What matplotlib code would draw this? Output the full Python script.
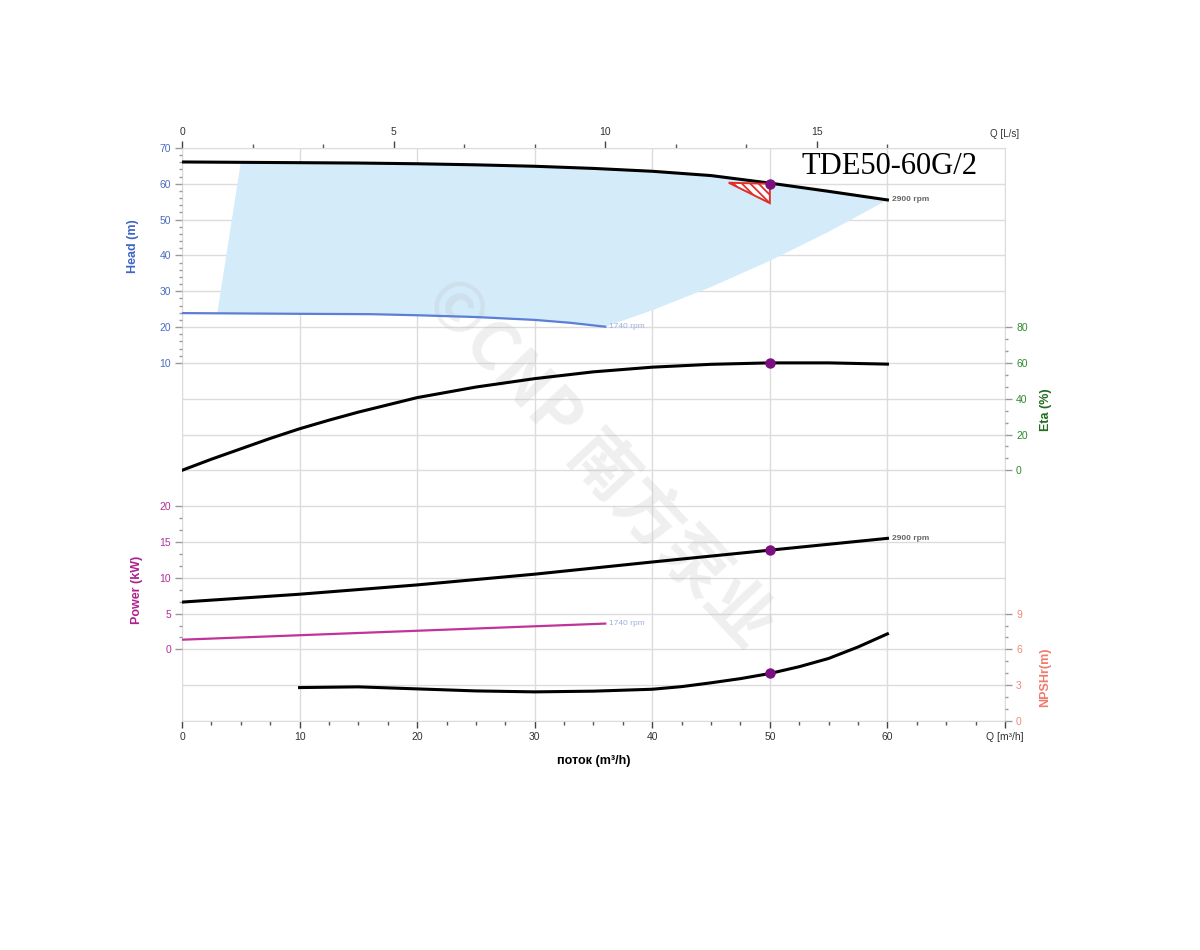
import numpy as np
import matplotlib
matplotlib.use("Agg")
import matplotlib.pyplot as plt
from matplotlib.patches import Polygon
from matplotlib.ticker import FixedLocator, NullFormatter

plt.rcParams['font.family'] = ['Liberation Sans', 'DejaVu Sans']
plt.rcParams['hatch.linewidth'] = 1.3

# --- data (Q in m3/h) ---
q_head = [0, 5, 10, 15, 20, 25, 30, 35, 40, 45, 50, 55, 60]
head_2900 = [66.1, 66.0, 65.9, 65.8, 65.6, 65.3, 64.9, 64.3, 63.5, 62.3, 60.2, 57.9, 55.5]

q_1740 = [0, 10, 16, 20, 25, 30, 33, 36]
head_1740 = [23.9, 23.7, 23.6, 23.3, 22.8, 22.0, 21.2, 20.1]

# operating range (shaded)
area_q = [5, 10, 15, 20, 25, 30, 35, 40, 45, 50, 55, 60, 55, 50, 45, 40, 36, 33, 30, 25, 20, 16, 10, 3]
area_h = [66.0, 65.9, 65.8, 65.6, 65.3, 64.9, 64.3, 63.5, 62.3, 60.2, 57.9, 55.5,
          46.6, 38.5, 31.2, 24.7, 20.1, 21.2, 22.0, 22.8, 23.3, 23.6, 23.7, 23.85]

q_eta = [0, 2.5, 5, 7.5, 10, 12.5, 15, 20, 25, 30, 35, 40, 45, 50, 55, 60]
eta = [0, 6.2, 12.0, 17.8, 23.2, 28.0, 32.5, 40.6, 46.5, 51.2, 55.0, 57.6, 59.2, 60.0, 60.0, 59.3]

q_pow = [0, 10, 20, 30, 40, 50, 60]
power_2900 = [6.6, 7.7, 9.0, 10.5, 12.2, 13.85, 15.5]
q_pow_1740 = [0, 12, 24, 36]
power_1740 = [1.35, 2.1, 2.85, 3.6]

q_npsh = [10, 15, 20, 25, 30, 35, 40, 42.5, 45, 47.5, 50, 52.5, 55, 57.5, 60]
npsh = [2.80, 2.86, 2.69, 2.52, 2.44, 2.50, 2.66, 2.88, 3.20, 3.55, 3.98, 4.55, 5.24, 6.2, 7.3]

duty_q = 50
duty_head, duty_eta, duty_pow, duty_npsh = 60.0, 60.0, 13.85, 3.98

tri_q = [46.5, 50, 50]
tri_h = [60.3, 60.0, 54.6]

x_major = [0, 10, 20, 30, 40, 50, 60, 70]
x_labels = ['0', '10', '20', '30', '40', '50', '60', 'Q [m³/h]']
ls_major = [0, 5, 10, 15]

c_head = '#4a6cc2'
c_eta = '#2e8b2e'
c_pow = '#b0309a'
c_npsh = '#f08878'
c_grid = '#dcdcdc'
c_duty = '#7b0f7f'

fig = plt.figure(figsize=(12, 9.5), dpi=100)
ax = fig.add_axes([182 / 1200, 1 - 721 / 950, 823 / 1200, 573 / 950])
ax.set_xlim(0, 70)
ax.set_ylim(0, 16)
ax.set_yticks(range(17))
ax.yaxis.set_major_formatter(NullFormatter())
ax.tick_params(axis='y', length=0)
ax.grid(True, color=c_grid, lw=1, zorder=0)
ax.set_axisbelow(True)
for s in ax.spines.values():
    s.set_color(c_grid)

ax.set_xticks(x_major)
ax.set_xticklabels(x_labels)
ax.xaxis.set_minor_locator(FixedLocator(np.arange(0, 70.1, 2.5)))
ax.tick_params(axis='x', which='major', length=5, width=1, color='#444444', labelsize=7.5,
               labelcolor='#333333', pad=3)
ax.tick_params(axis='x', which='minor', length=3, width=1, color='#555555')
ax.set_xlabel('поток (m³/h)', fontsize=9, fontweight='bold', labelpad=9)

top = ax.secondary_xaxis('top', functions=(lambda q: q / 3.6, lambda l: l * 3.6))
top.set_xticks(ls_major)
top.xaxis.set_minor_locator(FixedLocator(np.arange(0, 17.5, 5 / 3)))
top.tick_params(which='major', length=5, width=1, color='#444444', labelsize=7.5,
                labelcolor='#333333', pad=3)
top.tick_params(which='minor', length=3, width=1, color='#555555')
top.spines['top'].set_visible(False)
ax.text(70, 16.25, 'Q [L/s]', fontsize=7, color='#333333', ha='center', va='bottom')


def side_axis(lim, major, minor, color, side, label, lab_xy, lab_color):
    a = ax.twinx()
    a.set_ylim(*lim)
    for s in a.spines.values():
        s.set_visible(False)
    if side == 'left':
        a.yaxis.tick_left()
        a.yaxis.set_label_position('left')
    a.yaxis.set_major_locator(FixedLocator(major))
    a.yaxis.set_minor_locator(FixedLocator(minor))
    a.tick_params(axis='y', which='major', length=5, width=1, color='#9a9a9a',
                  labelsize=7.5, labelcolor=color, pad=3)
    a.tick_params(axis='y', which='minor', length=2.5, width=1, color='#9a9a9a')
    a.set_ylabel(label, fontsize=9, fontweight='bold', color=lab_color)
    a.yaxis.set_label_coords(*lab_xy)
    return a


axH = side_axis((-90, 70), np.arange(10, 71, 10), np.arange(10, 70.1, 2), c_head, 'left',
                'Head (m)', (-0.052, 0.829), '#3f66c4')
axE = side_axis((-140, 180), np.arange(0, 81, 20), np.arange(0, 80.1, 20 / 3), c_eta, 'right',
                'Eta (%)', (1.042, 0.543), '#1f6e1f')
axP = side_axis((-10, 70), np.arange(0, 21, 5), np.arange(0, 20.1, 5 / 3), c_pow, 'left',
                'Power (kW)', (-0.047, 0.229), '#b0208f')
axN = side_axis((0, 48), np.arange(0, 10, 3), np.arange(0, 9.1, 1), c_npsh, 'right',
                'NPSHr(m)', (1.042, 0.077), '#f07b6b')

# operating range drawn on the base axes (head units) so the watermark sits above it
ax.add_patch(Polygon(np.column_stack([area_q, area_h]), closed=True, facecolor='#d4ebfa',
                     edgecolor='none', zorder=0.8, transform=axH.transData))

# watermark
ax.text(35.4, 7.2, '©CNP 南方泵业', rotation=-47, rotation_mode='anchor', ha='center', va='center',
        fontsize=48, fontweight='bold', color='#b8b8b8', alpha=0.22, zorder=1.5,
        family=['Noto Sans CJK SC', 'DejaVu Sans'])

# head
axH.plot(q_head, head_2900, color='black', lw=2.2, zorder=3)
axH.plot(q_1740, head_1740, color='#5b7fd6', lw=1.6, zorder=3)
axH.add_patch(Polygon(np.column_stack([tri_q, tri_h]), closed=True, facecolor='white',
                      edgecolor='#e0302a', lw=1.4, hatch=r'\\\\', zorder=3))
axH.plot([duty_q], [duty_head], 'o', color=c_duty, ms=6.5, zorder=4)
axH.text(q_head[-1] + 0.4, head_2900[-1], '2900 rpm', fontsize=6, fontweight='bold',
         color='#666666', va='center')
axH.text(q_1740[-1] + 0.3, head_1740[-1], '1740 rpm', fontsize=6, color='#9fb0dd', va='center')

# efficiency
axE.plot(q_eta, eta, color='black', lw=2.2, zorder=3)
axE.plot([duty_q], [duty_eta], 'o', color=c_duty, ms=6.5, zorder=4)

# power
axP.plot(q_pow, power_2900, color='black', lw=2.2, zorder=3)
axP.plot(q_pow_1740, power_1740, color='#c0339a', lw=1.6, zorder=3)
axP.plot([duty_q], [duty_pow], 'o', color=c_duty, ms=6.5, zorder=4)
axP.text(q_pow[-1] + 0.4, power_2900[-1], '2900 rpm', fontsize=6, fontweight='bold',
         color='#666666', va='center')
axP.text(q_pow_1740[-1] + 0.3, power_1740[-1], '1740 rpm', fontsize=6, color='#9fb0dd', va='center')

# npsh
axN.plot(q_npsh, npsh, color='black', lw=2.2, zorder=3)
axN.plot([duty_q], [duty_npsh], 'o', color=c_duty, ms=6.5, zorder=4)

fig.text(801 / 1200, 1 - 167 / 950, 'TDE50-60G/2', fontsize=22, family='Liberation Serif',
         ha='left', va='center', color='black')

fig.savefig('out.png', dpi=100, facecolor='white')
